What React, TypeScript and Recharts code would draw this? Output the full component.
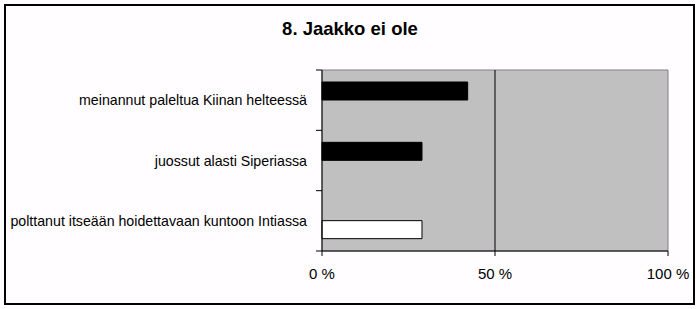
import {BarChart, Bar, XAxis, YAxis, ReferenceArea, ReferenceLine} from "recharts";

const categories = [
    "meinannut paleltua Kiinan helteessä",
    "juossut alasti Siperiassa",
    "polttanut itseään hoidettavaan kuntoon Intiassa",
];
const blackSeries = [42.1, 28.9, null];
const whiteSeries = [null, null, 28.9];
const xTicks = [0, 50, 100];

const FONT = "'Liberation Sans', Arial, sans-serif";
const PLOT_LEFT = 322;
const PLOT_TOP = 70;
const PLOT_BOTTOM = 251;

const chartData = categories.map((name, i) => ({
    name,
    black: blackSeries[i],
    white: whiteSeries[i],
}));

// Excel style: label centred in the band, tick marks on the band edges
const CategoryTick = (props: any) => {
    const {y, payload, index} = props;
    const half = (PLOT_BOTTOM - PLOT_TOP) / categories.length / 2;
    return (
        <g>
            <line x1={PLOT_LEFT - 6} x2={PLOT_LEFT} y1={y - half} y2={y - half} stroke="#000"/>
            {index === categories.length - 1 &&
                <line x1={PLOT_LEFT - 6} x2={PLOT_LEFT} y1={y + half} y2={y + half} stroke="#000"/>}
            <text x={PLOT_LEFT - 15} y={y + 5} textAnchor="end" fontSize={14.2} fontFamily={FONT} fill="#000">
                {payload.value}
            </text>
        </g>
    );
};

const App = () => {
    return (
        <div style={{position: "absolute", left: 0, top: 0, width: 700, height: 309, background: "#fffdff", fontFamily: FONT}}>
            <div style={{position: "absolute", left: 4, top: 4, width: 691, height: 301, border: "2px solid #000", boxSizing: "border-box"}}/>
            <div style={{position: "absolute", left: 0, top: 18.6, width: 700, textAlign: "center", fontSize: 18.5, lineHeight: "20px", fontWeight: "bold", color: "#000"}}>
                8. Jaakko ei ole
            </div>
            <div style={{position: "absolute", left: 0, top: 0}}>
                <BarChart width={700} height={309} data={chartData} layout="vertical"
                          margin={{top: PLOT_TOP, right: 32, bottom: 28, left: 0}}
                          barSize={18} barGap={0}>
                    <ReferenceArea x1={0} x2={100} fill="#c0c0c0" fillOpacity={1} stroke="#808080"/>
                    <ReferenceLine x={50} stroke="#000"/>
                    <XAxis type="number" domain={[0, 100]} ticks={xTicks} interval={0}
                           tickFormatter={(v) => `${v} %`} height={30}
                           axisLine={{stroke: "#000"}} tickLine={{stroke: "#000"}} tickSize={5} tickMargin={12}
                           tick={{fill: "#000", fontSize: 15, fontFamily: FONT}}/>
                    <YAxis type="category" dataKey="name" width={PLOT_LEFT}
                           axisLine={{stroke: "#000"}} tickLine={false} tick={<CategoryTick/>}/>
                    <Bar dataKey="black" fill="#000" stroke="#000" isAnimationActive={false}/>
                    <Bar dataKey="white" fill="#fff" stroke="#000" isAnimationActive={false}/>
                </BarChart>
            </div>
        </div>
    );
};

export default App;
